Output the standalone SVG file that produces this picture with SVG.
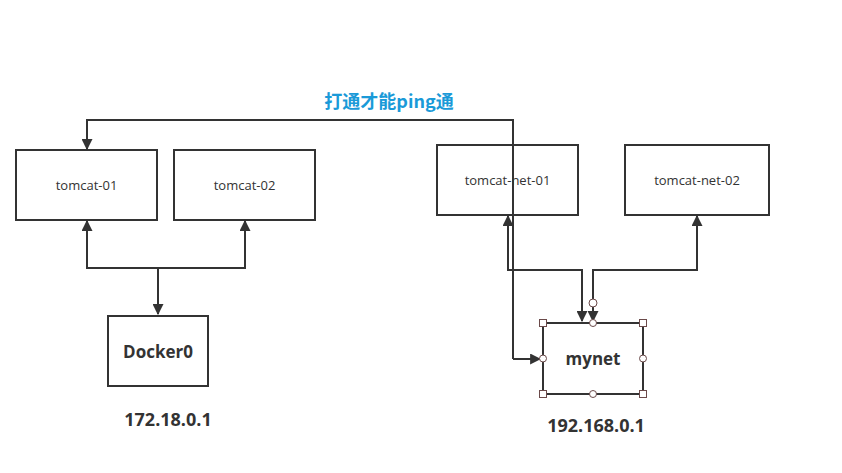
<svg xmlns="http://www.w3.org/2000/svg" width="842" height="473" viewBox="0 0 842 473">
<style>
.box{fill:#fff;stroke:#333;stroke-width:2}
.lbl{font-family:"Open Sans","Noto Sans",sans-serif;font-size:13px;fill:#333;text-anchor:middle}
.bold{font-family:"Open Sans","Noto Sans",sans-serif;font-weight:bold;font-size:17px;fill:#333;text-anchor:middle}
.ip{font-family:"Open Sans","Noto Sans",sans-serif;font-weight:bold;font-size:18px;fill:#333;text-anchor:middle}
.edge{fill:none;stroke:#333;stroke-width:2}
.h{fill:#fff;stroke:#6b4a4a;stroke-width:1}
</style>
<defs>
<marker id="arr" viewBox="0 0 10 10" refX="9" refY="5" markerWidth="5.5" markerHeight="5.5" orient="auto" markerUnits="strokeWidth">
<path d="M0,0 L10,5 L0,10 z" fill="#333"/>
</marker>
</defs>
<rect width="842" height="473" fill="#fff"/>
<text x="389" y="108" font-family="'Noto Sans CJK SC','Noto Sans',sans-serif" font-weight="bold" font-size="18" fill="#1a9ad8" text-anchor="middle">打通才能ping通</text>
<g id="tomcat-01"><rect class="box" x="16" y="150" width="141" height="70"/><text class="lbl" x="86.5" y="190">tomcat-01</text></g>
<g id="tomcat-02"><rect class="box" x="174" y="150" width="141" height="70"/><text class="lbl" x="244.5" y="190">tomcat-02</text></g>
<g id="docker0"><rect class="box" x="108" y="316" width="100" height="70"/><text class="bold" x="158" y="358">Docker0</text></g>
<text class="ip" x="168" y="426">172.18.0.1</text>
<g id="tomcat-net-01"><rect class="box" x="437" y="145" width="141" height="70"/><text class="lbl" x="507.5" y="185">tomcat-net-01</text></g>
<g id="tomcat-net-02"><rect class="box" x="625" y="145" width="144" height="70"/><text class="lbl" x="697" y="185">tomcat-net-02</text></g>
<g id="connectors">
<path class="edge" d="M513,359 V120 H87 V149" marker-end="url(#arr)"/>
<path class="edge" d="M513,359 H540" marker-end="url(#arr)"/>
<path class="edge" d="M158,268 H87 V221" marker-end="url(#arr)"/>
<path class="edge" d="M158,268 H245 V221" marker-end="url(#arr)"/>
<path class="edge" d="M158,268 V314" marker-end="url(#arr)"/>
<path class="edge" d="M508,216 V270 H582 V321" marker-end="url(#arr)"/>
<path class="edge" d="M508,270 V216" marker-end="url(#arr)"/>
<path class="edge" d="M593,303 V270 H697 V216" marker-end="url(#arr)"/>
<path class="edge" d="M593,306 V321" marker-end="url(#arr)"/>
</g>
<g id="mynet">
<rect class="box" x="543" y="323" width="100" height="71"/>
<text class="bold" x="593" y="365">mynet</text>
<circle class="h" cx="593" cy="303" r="4"/>
<rect class="h" x="539.5" y="319.5" width="7" height="7"/>
<rect class="h" x="639.5" y="319.5" width="7" height="7"/>
<rect class="h" x="539.5" y="390.5" width="7" height="7"/>
<rect class="h" x="639.5" y="390.5" width="7" height="7"/>
<circle class="h" cx="593" cy="323" r="3.5"/>
<circle class="h" cx="593" cy="394" r="3.5"/>
<circle class="h" cx="543" cy="358.5" r="3.5"/>
<circle class="h" cx="643" cy="358.5" r="3.5"/>
</g>
<text class="ip" x="596" y="432">192.168.0.1</text>
</svg>
